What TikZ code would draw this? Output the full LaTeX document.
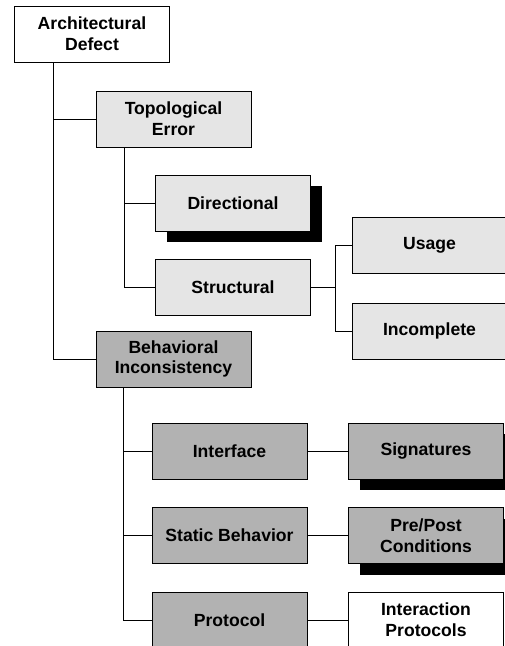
\documentclass[tikz,border=0pt]{standalone}
\usepackage{fontspec}
\setmainfont{Liberation Sans}
\usepackage{tikz}
\usetikzlibrary{calc, shadows}

\tikzset{
    box/.style={draw=black, line width=1pt, minimum width=155pt, minimum height=56pt,
        align=center, inner sep=2pt, font=\fontsize{17.6}{20.8}\selectfont\bfseries},
    plain/.style={box, fill=white},
    light/.style={box, fill=black!10},
    dark/.style={box, fill=black!30},
    shade/.style={drop shadow={shadow xshift=11pt, shadow yshift=-11pt, fill=black, opacity=1}},
    link/.style={line width=1pt}
}

\begin{document}
\begin{tikzpicture}[x=1pt, y=-1pt]
    \useasboundingbox (0,0) rectangle (505,646);
    % boxes
    \node[plain] (arch) at (92,34) {Architectural\\Defect};
    \node[light] (topo) at (173.5,119) {Topological\\Error};
    \node[light, shade] (dir) at (233,203) {Directional};
    \node[light] (struc) at (233,287.5) {Structural};
    \node[light] (usage) at (429.5,245.5) {Usage};
    \node[light] (incomp) at (429.5,331) {Incomplete};
    \node[dark] (behav) at (173.5,359) {Behavioral\\Inconsistency};
    \node[dark] (iface) at (229.5,451) {Interface};
    \node[dark] (static) at (229.5,535.5) {Static Behavior};
    \node[dark] (proto) at (229.5,620) {Protocol};
    \node[dark, shade] (sig) at (426,451) {Signatures};
    \node[dark, shade] (prepost) at (426,535.5) {Pre/Post\\Conditions};
    \node[plain] (interact) at (426,620) {Interaction\\Protocols};
    % trunks
    \coordinate (archT) at (53,0);
    \coordinate (topoT) at (124,0);
    \coordinate (strucT) at (335,0);
    \coordinate (behavT) at (123,0);
    \draw[link] (arch.south -| archT) |- (behav.west);
    \draw[link] (archT |- topo) -- (topo.west);
    \draw[link] (topo.south -| topoT) |- (struc.west);
    \draw[link] (topoT |- dir) -- (dir.west);
    \draw[link] (struc.east) -- (strucT |- struc);
    \draw[link] (usage.west) -- (usage.west -| strucT) -- (incomp.west -| strucT) -- (incomp.west);
    \draw[link] (behav.south -| behavT) |- (proto.west);
    \draw[link] (behavT |- iface) -- (iface.west);
    \draw[link] (behavT |- static) -- (static.west);
    \draw[link] (iface) -- (sig);
    \draw[link] (static) -- (prepost);
    \draw[link] (proto) -- (interact);
\end{tikzpicture}
\end{document}
